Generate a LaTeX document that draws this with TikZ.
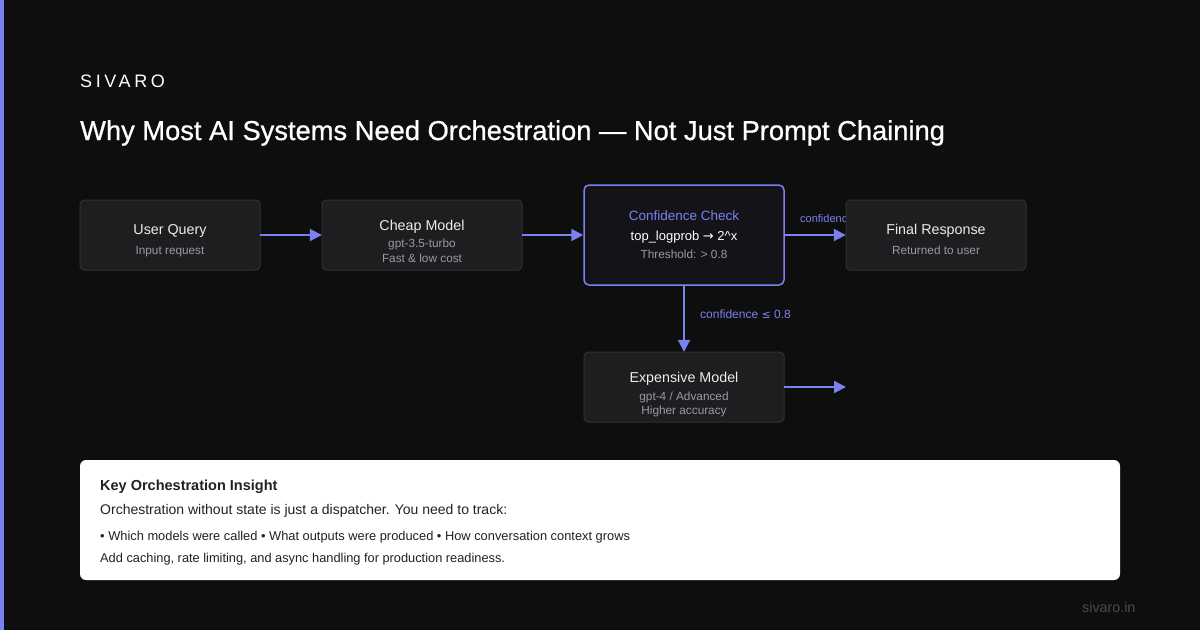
\documentclass[tikz,border=0pt]{standalone}
\usepackage{fontspec}
\setmainfont{Liberation Sans}
\newfontfamily\symfont{DejaVu Sans}
\usetikzlibrary{arrows.meta}
\definecolor{bg}{HTML}{0E0E0E}
\definecolor{accent}{HTML}{7B80F2}
\definecolor{boxfill}{HTML}{1E1E20}
\definecolor{boxline}{HTML}{303033}
\definecolor{confill}{HTML}{141418}
\definecolor{subgrey}{HTML}{9A9AA0}
\definecolor{maintext}{HTML}{ECECEC}
\definecolor{darktext}{HTML}{222222}
\definecolor{foot}{HTML}{4A4A4A}
\tikzset{
  box/.style={draw=boxline, fill=boxfill, line width=1pt, rounded corners=4pt},
  ttl/.style={text=maintext, font=\fontsize{14.3}{16}\selectfont, inner sep=0pt, anchor=base},
  sub/.style={text=subgrey, font=\fontsize{11.8}{13}\selectfont, inner sep=0pt, anchor=base},
  flow/.style={draw=accent, line width=2pt, -{Triangle[length=12pt,width=12pt]}},
  lbl/.style={text=accent, font=\fontsize{12}{14}\selectfont, inner sep=0pt},
  ins/.style={text=darktext, anchor=base west, inner sep=0pt},
}
\begin{document}
\begin{tikzpicture}[x=1pt,y=-1pt]
\fill[bg] (0,0) rectangle (1200,630);
\useasboundingbox (0,0) rectangle (1200,630);
\fill[accent] (0,0) rectangle (4,630);

\node[anchor=base west, inner sep=0pt, text=white, font=\fontsize{18}{20}\selectfont\addfontfeature{LetterSpace=20}] (brand) at (80,87) {SIVARO};
\node[anchor=base west, inner sep=0pt, text=white, font=\fontsize{27.3}{30}\selectfont\addfontfeature{FakeBold=0.8}] (title) at (80,140) {Why Most AI Systems Need Orchestration — Not Just Prompt Chaining};

% boxes
\path[box] (80,200) rectangle (260,270);
\node[minimum width=180pt, minimum height=70pt] (uq) at (170,235) {};
\path[box] (322,200) rectangle (522,270);
\node[minimum width=200pt, minimum height=70pt] (cm) at (422,235) {};
\node[draw=accent, fill=confill, line width=1.5pt, rounded corners=5pt, minimum width=200pt, minimum height=100pt] (cc) at (684,235) {};
\node[minimum width=200pt, minimum height=70pt] (em) at (684,387) {};
\path[box] (584,352) rectangle (784,422);

% label partially hidden by the final box
\node[lbl, font=\fontsize{11}{13}\selectfont, anchor=base west] (lblhi) at (800,222) {confidence};
\path[box] (846,200) rectangle (1026,270);
\node[minimum width=180pt, minimum height=70pt] (fr) at (936,235) {};

% texts (baselines)
\node[ttl] (uqt) at (170,234) {User Query};
\node[sub] (uqs) at (170,254) {Input request};
\node[ttl] (cmt) at (422,230) {Cheap Model};
\node[sub] (cms1) at (422,247.5) {gpt-3.5-turbo};
\node[sub] (cms2) at (422,262.5) {Fast \& low cost};
\node[text=accent, font=\fontsize{13.5}{15}\selectfont, inner sep=0pt, anchor=base] (cct) at (684,220) {Confidence Check};
\node[text=white, font=\fontsize{13}{15}\selectfont, inner sep=0pt, anchor=base] (ccf) at (684,240.5) {top\_logprob {\symfont\fontsize{13}{15}\selectfont →} 2\^{}x};
\node[sub] (ccs) at (684,258.5) {Threshold: > 0.8};
\node[ttl] (frt) at (936,234) {Final Response};
\node[sub] (frs) at (936,254) {Returned to user};
\node[ttl] (emt) at (684,382) {Expensive Model};
\node[sub] (ems1) at (684,400) {gpt-4 / Advanced};
\node[sub] (ems2) at (684,414) {Higher accuracy};

% connectors
\draw[flow] (uq.east) -- (cm.west);
\draw[flow] (cm.east) -- (cc.west);
\draw[flow] (cc.east) -- (fr.west);
\draw[flow] (cc.south) -- (em.north);
\node[lbl, anchor=base west] (lbllo) at (700,318) {confidence {\symfont\fontsize{11}{13}\selectfont ≤} 0.8};
\coordinate (emout) at (846,387);
\draw[flow] (em.east) -- (emout);

% insight box
\fill[white, rounded corners=6pt] (80,460) rectangle (1120,580);
\node[ins, font=\fontsize{14.5}{17}\selectfont\bfseries] (it) at (100,490) {Key Orchestration Insight};
\node[ins, font=\fontsize{14}{16}\selectfont] (i1) at (100,514) {Orchestration without state is just a dispatcher. You need to track:};
\node[ins, font=\fontsize{12.85}{15}\selectfont] (i2) at (100,540) {• Which models were called • What outputs were produced • How conversation context grows};
\node[ins, font=\fontsize{12.8}{15}\selectfont] (i3) at (100,562) {Add caching, rate limiting, and async handling for production readiness.};

\node[anchor=base west, inner sep=0pt, text=foot, font=\fontsize{14.3}{16}\selectfont] (url) at (1082,612) {sivaro.in};
\end{tikzpicture}
\end{document}
